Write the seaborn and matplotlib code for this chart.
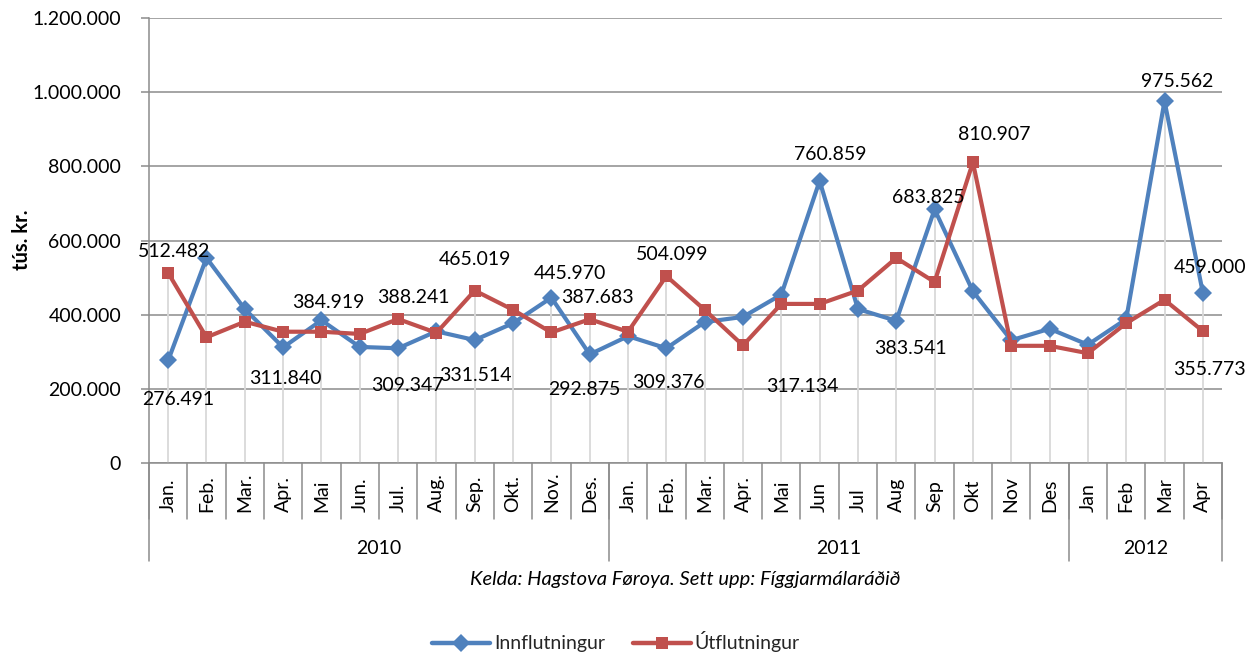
import numpy as np
import pandas as pd
import matplotlib
matplotlib.use("Agg")
import matplotlib.pyplot as plt
import seaborn as sns
from matplotlib.ticker import FuncFormatter, MultipleLocator
from matplotlib.lines import Line2D

# ---------------- data ----------------
months = ["Jan.", "Feb.", "Mar.", "Apr.", "Mai", "Jun.", "Jul.", "Aug.", "Sep.", "Okt.", "Nov.", "Des.",
          "Jan.", "Feb.", "Mar.", "Apr.", "Mai", "Jun", "Jul", "Aug", "Sep", "Okt", "Nov", "Des",
          "Jan", "Feb", "Mar", "Apr"]
years = ["2010", "2011", "2012"]
year_lengths = [12, 12, 4]

innflutningur = [276491, 553000, 415000, 311840, 384919, 313000, 309347, 355000, 331514, 377000,
                 445970, 292875, 342000, 309376, 380000, 394000, 454000, 760859, 415000, 383541,
                 683825, 463000, 331000, 362000, 319000, 388000, 975562, 459000]
utflutningur = [512482, 339000, 381000, 354000, 354000, 348000, 388241, 351000, 465019, 413000,
                352000, 387683, 354000, 504099, 413000, 317134, 429000, 429000, 465000, 553000,
                488000, 810907, 316000, 316000, 296000, 377000, 440000, 355773]
series_names = ["Innflutningur", "Útflutningur"]

# labelled points: (series index, point index) and label placement (x in category units, y in value units)
label_points = [(0, 0), (0, 3), (0, 4), (0, 6), (0, 8), (0, 10), (0, 11), (0, 13), (0, 17), (0, 19),
                (0, 20), (0, 26), (0, 27),
                (1, 0), (1, 6), (1, 8), (1, 11), (1, 13), (1, 15), (1, 21), (1, 27)]
label_pos = [(0.26, 170000), (3.05, 229000), (4.17, 434000), (6.24, 210000), (8.01, 237000),
             (10.49, 512000), (10.86, 197000), (13.05, 216000), (17.28, 831000), (19.37, 310000),
             (19.84, 717000), (26.34, 1030000), (27.18, 526000),
             (0.15, 569000), (6.39, 445000), (8.01, 550000), (11.2, 445000), (13.16, 561000),
             (16.55, 205000), (21.56, 885000), (27.18, 251000)]

colors = {"Innflutningur": "#4F81BD", "Útflutningur": "#C0504D"}
markers = {"Innflutningur": "D", "Útflutningur": "s"}

# ---------------- plot ----------------
sns.set_theme(style="white")
plt.rcParams['font.family'] = ['Lato', 'DejaVu Sans']

FS = 14
W, H = 1247, 654
fig = plt.figure(figsize=(W / 100, H / 100), dpi=100)
L, R, T, B = 149, 1222, 18, 463
ax = fig.add_axes([L / W, (H - B) / H, (R - L) / W, (B - T) / H])

n = len(months)
idx = np.arange(n)
df = pd.DataFrame({
    "pos": np.concatenate([idx, idx]),
    "value": innflutningur + utflutningur,
    "series": [series_names[0]] * n + [series_names[1]] * n,
})

# drop lines
tops = np.maximum(innflutningur, utflutningur)
ax.vlines(idx, 0, tops, color="#D9D9D9", lw=1.3, zorder=1)

sns.lineplot(data=df, x="pos", y="value", hue="series", style="series",
             palette=colors, markers=markers, dashes=False, lw=3.0,
             markeredgewidth=0, ax=ax, legend=False, sort=False, zorder=3)
for line in ax.get_lines():
    if line.get_marker() in ("D", "s"):
        line.set_markersize(9)

# axes styling
ax.set_xlim(-0.5, n - 0.5)
ax.set_ylim(0, 1200000)
ax.yaxis.set_major_locator(MultipleLocator(200000))
ax.yaxis.set_major_formatter(FuncFormatter(lambda v, p: f"{int(round(v)):,}".replace(",", ".")))
ax.yaxis.grid(True, color="#8C8C8C", lw=1.1, zorder=0)
ax.set_axisbelow(True)
for s in ["top", "right"]:
    ax.spines[s].set_visible(False)
for s in ["left", "bottom"]:
    ax.spines[s].set_color("#8C8C8C")
    ax.spines[s].set_linewidth(1.1)
ax.tick_params(axis="y", left=True, length=6, width=1.1, color="#8C8C8C",
               pad=14, labelsize=FS, labelcolor="black")
ax.set_xticks([])
ax.set_xlabel("")
ax.set_ylabel("")

fig.text(22 / W, 1 - 240 / H, "tús. kr.", rotation=90, ha="center", va="center",
         fontsize=14.5, fontweight="bold", color="black")

# data labels
all_series = [innflutningur, utflutningur]
for (si, pi), (lx, ly) in zip(label_points, label_pos):
    txt = f"{all_series[si][pi]:,}".replace(",", ".")
    ax.text(lx, ly, txt, ha="center", va="center", fontsize=FS, color="black", zorder=5)

# category axis: months, separators, years
xt = ax.get_xaxis_transform()
axh = B - T
for i, m in enumerate(months):
    ax.text(i, -(512 - B) / axh, m, rotation=90, ha="center", va="bottom",
            fontsize=FS, color="black", transform=xt)
year_bounds = np.cumsum([0] + year_lengths) - 0.5
for b in np.arange(n + 1) - 0.5:
    ax.plot([b, b], [0, -(519 - B) / axh], color="#8C8C8C", lw=1.1,
            transform=xt, clip_on=False)
for b in year_bounds:
    ax.plot([b, b], [0, -(561 - B) / axh], color="#8C8C8C", lw=1.1,
            transform=xt, clip_on=False)
for k, y in enumerate(years):
    c = (year_bounds[k] + year_bounds[k + 1]) / 2
    ax.text(c, -(548 - B) / axh, y, ha="center", va="center", fontsize=FS,
            color="black", transform=xt)

ax.text(0.5, -(580 - B) / axh, "Kelda: Hagstova Føroya. Sett upp: Fíggjarmálaráðið",
        ha="center", va="center", fontsize=14.5, style="italic", color="black",
        transform=ax.transAxes)

# legend
handles = [Line2D([0], [0], color=colors[s], marker=markers[s], lw=3.2, ms=9,
                  markeredgewidth=0) for s in series_names]
fig.legend(handles, series_names, loc="center", bbox_to_anchor=(0.494, (H - 642) / H),
           ncol=2, frameon=False, fontsize=FS, handlelength=3.0, handletextpad=0.2,
           columnspacing=1.4, borderpad=0.1)

fig.savefig("out.png", dpi=100)
